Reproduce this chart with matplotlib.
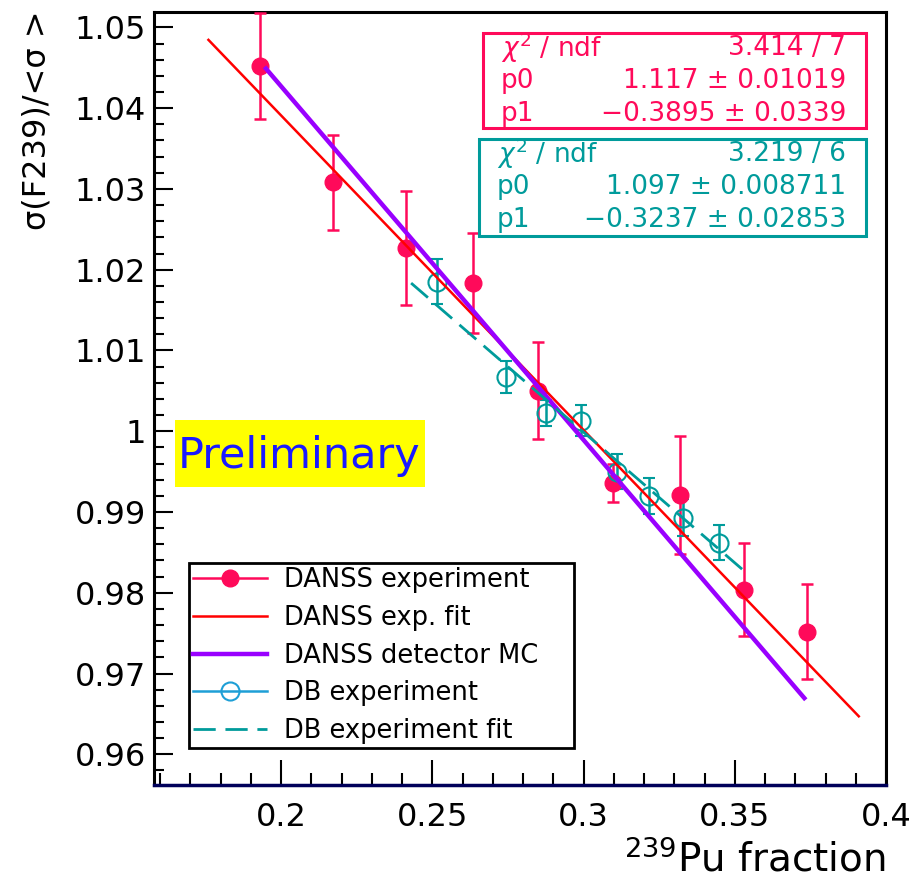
import matplotlib
matplotlib.use('Agg')
import matplotlib.pyplot as plt
from matplotlib.lines import Line2D
from matplotlib.patches import Rectangle
import numpy as np

plt.rcParams['font.family'] = ['DejaVu Sans']

# ---------------- data ----------------
danss_x = [0.1931, 0.2172, 0.2413, 0.2634, 0.2851, 0.3099, 0.3320, 0.3531, 0.3739]
danss_y = [1.0452, 1.0308, 1.0227, 1.0183, 1.0050, 0.9936, 0.9921, 0.9804, 0.9752]
danss_err = [0.0066, 0.0059, 0.0071, 0.0062, 0.0060, 0.0024, 0.0073, 0.0057, 0.0059]

db_x = [0.2517, 0.2743, 0.2877, 0.2992, 0.3111, 0.3218, 0.3328, 0.3447]
db_y = [1.0185, 1.0067, 1.0023, 1.0013, 0.9950, 0.9920, 0.9893, 0.9862]
db_err = [0.0028, 0.0020, 0.0016, 0.0019, 0.0022, 0.0022, 0.0023, 0.0022]

danss_fit = [1.117, -0.3895]        # p0, p1
danss_fit_range = [0.176, 0.391]
db_fit = [1.097, -0.3237]
db_fit_range = [0.243, 0.353]
mc_x = [0.195, 0.373]
mc_y = [1.0449, 0.96696]

xtick_vals = [0.2, 0.25, 0.3, 0.35, 0.4]
xtick_labels = ['0.2', '0.25', '0.3', '0.35', '0.4']
ytick_vals = [0.96, 0.97, 0.98, 0.99, 1.00, 1.01, 1.02, 1.03, 1.04, 1.05]
ytick_labels = ['0.96', '0.97', '0.98', '0.99', '1', '1.01', '1.02', '1.03', '1.04', '1.05']

stats_danss = [("$\\chi^{2}$ / ndf", "3.414 / 7"),
               ("p0", "1.117 \u00b1 0.01019"),
               ("p1", "\u22120.3895 \u00b1 0.0339")]
stats_db = [("$\\chi^{2}$ / ndf", "3.219 / 6"),
            ("p0", "1.097 \u00b1 0.008711"),
            ("p1", "\u22120.3237 \u00b1 0.02853")]

legend_labels = ["DANSS experiment", "DANSS exp. fit", "DANSS detector MC",
                 "DB experiment", "DB experiment fit"]

# ---------------- style ----------------
C_DANSS = '#ff0a5a'
C_FIT = '#ff0000'
C_MC = '#9900ff'
C_DB = '#009b9b'
C_DB_LEG = '#1e9fd6'

W, H = 924, 882
fig = plt.figure(figsize=(W / 100, H / 100), dpi=100)


def fx(px):
    return px / W


def fy(py):
    return 1 - py / H


ax = fig.add_axes([fx(154), fy(785), fx(886) - fx(154), fy(12) - fy(785)])

# data points
ax.errorbar(danss_x, danss_y, yerr=danss_err, fmt='o', color=C_DANSS, ms=12,
            elinewidth=1.8, capsize=4, capthick=1.8, zorder=3)
ax.errorbar(db_x, db_y, yerr=db_err, fmt='o', color=C_DB, mfc='none', mec=C_DB,
            mew=1.5, ms=13, elinewidth=1.8, capsize=4, capthick=1.8, zorder=3)

# lines
xf = np.linspace(danss_fit_range[0], danss_fit_range[1], 50)
ax.plot(xf, danss_fit[0] + danss_fit[1] * xf, color=C_FIT, lw=1.8, zorder=4)
ax.plot(mc_x, mc_y, color=C_MC, lw=3.2, zorder=4)
xd = np.linspace(db_fit_range[0], db_fit_range[1], 50)
ax.plot(xd, db_fit[0] + db_fit[1] * xd, color=C_DB, lw=2.0, dashes=(8, 3.5), zorder=4)

# axes
ax.set_xlim(0.158, 0.4)
ax.set_ylim(0.9562, 1.0519)
ax.set_xticks(xtick_vals)
ax.set_xticklabels(xtick_labels)
ax.set_xticks(np.arange(0.16, 0.4001, 0.01), minor=True)
ax.set_yticks(ytick_vals)
ax.set_yticklabels(ytick_labels)
ax.set_yticks(np.arange(0.958, 1.0505, 0.002), minor=True)
ax.tick_params(axis='both', which='both', direction='in', top=False, right=False)
ax.tick_params(axis='x', which='major', length=18, width=1.5, labelsize=23, pad=12)
ax.tick_params(axis='x', which='minor', length=9, width=1.5)
ax.tick_params(axis='y', which='major', length=14, width=1.5, labelsize=23, pad=6)
ax.tick_params(axis='y', which='minor', length=7, width=1.5)
for s in ['left', 'top', 'right']:
    ax.spines[s].set_linewidth(2.2)
ax.spines['bottom'].set_linewidth(2.5)
ax.spines['bottom'].set_color('#00005a')

fig.text(fx(22), fy(10), "\u03c3(F239)/<\u03c3 >", rotation=90, ha='left', va='top',
         fontsize=23)
fig.text(fx(886), fy(860), "$^{239}$Pu fraction", ha='right', va='center', fontsize=28)

# Preliminary label
fig.add_artist(Rectangle((fx(175), fy(487)), fx(425) - fx(175), fy(420) - fy(487),
                         transform=fig.transFigure, facecolor='#ffff00', edgecolor='none',
                         zorder=5))
fig.text(fx(299), fy(456), "Preliminary", ha='center', va='center', fontsize=31,
         color='#1a1aff', zorder=6)

# stats boxes
def stats_box(x0, y0, x1, y1, rows, color):
    fig.add_artist(Rectangle((fx(x0), fy(y1)), fx(x1) - fx(x0), fy(y0) - fy(y1),
                             transform=fig.transFigure, facecolor='white',
                             edgecolor=color, lw=2.2, zorder=5))
    for i, (k, v) in enumerate(rows):
        yy = y0 + 15 + 33 * i
        fig.text(fx(x0 + 18), fy(yy), k, color=color, fontsize=19, ha='left',
                 va='center', zorder=6)
        fig.text(fx(x1 - 20), fy(yy), v, color=color, fontsize=19, ha='right',
                 va='center', zorder=6)


stats_box(483, 33, 866, 128, stats_danss, C_DANSS)
stats_box(479, 139, 866, 236, stats_db, C_DB)

# legend
handles = [
    Line2D([], [], color=C_DANSS, marker='o', ms=12, lw=1.8),
    Line2D([], [], color=C_FIT, lw=1.8),
    Line2D([], [], color=C_MC, lw=3.2),
    Line2D([], [], color=C_DB_LEG, marker='o', mfc='none', mec=C_DB_LEG, mew=1.5, ms=13, lw=1.8),
    Line2D([], [], color=C_DB, lw=2.0, dashes=(8, 3.5)),
]
leg = ax.legend(handles, legend_labels, loc='lower left',
                bbox_to_anchor=(fx(189), fy(748), fx(574) - fx(189), fy(562) - fy(748)),
                bbox_transform=fig.transFigure, mode='expand', fontsize=18.5,
                frameon=True, fancybox=False, framealpha=1, edgecolor='black',
                borderaxespad=0, borderpad=0.15, handlelength=2.9, handletextpad=0.65,
                labelspacing=0.46)
leg.get_frame().set_linewidth(2.0)

fig.savefig('out.png', dpi=100)
